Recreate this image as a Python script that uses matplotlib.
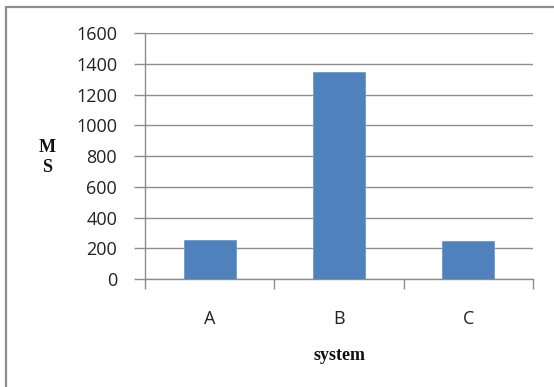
import matplotlib
matplotlib.use("Agg")
import matplotlib.pyplot as plt
from matplotlib.patches import Rectangle

categories = ["A", "B", "C"]
values = [255, 1350, 245]
y_ticks = [0, 200, 400, 600, 800, 1000, 1200, 1400, 1600]

W, H = 554, 387
fig = plt.figure(figsize=(W / 100, H / 100), dpi=100)
fig.patch.set_facecolor("white")

# outer chart frame (left and top edges visible)
fig.patches.append(Rectangle((6 / W, -0.1), 1.2, (1 - 7.5 / H) + 0.1,
                             transform=fig.transFigure, fill=False,
                             edgecolor="#8c8c8c", linewidth=1.6, zorder=0))

ax = fig.add_axes([145 / W, 1 - 279 / H, (533 - 145) / W, (279 - 33.3) / H])

grid_color = "#8e8e8e"
x = list(range(len(categories)))
ax.bar(x, values, width=0.4, color="#4F81BD", edgecolor="#6f9ad0",
       linewidth=0.6, zorder=3)

ax.set_xlim(-0.5, 2.5)
ax.set_ylim(0, 1600)
ax.set_yticks(y_ticks)
ax.yaxis.grid(True, color=grid_color, linewidth=1.0, zorder=0)
ax.set_axisbelow(True)

tick_font = "Open Sans"
ax.set_yticklabels([str(v) for v in y_ticks], fontsize=13, family=tick_font,
                   color="#222222")
ax.tick_params(axis="y", length=8, width=1.0, color=grid_color, pad=12)

ax.set_xticks(x)
ax.set_xticklabels(categories, fontsize=13, family=tick_font, color="#222222")
ax.tick_params(axis="x", which="major", length=0, pad=22)
ax.set_xticks([-0.5, 0.5, 1.5, 2.5], minor=True)
ax.tick_params(axis="x", which="minor", length=7, width=1.0, color=grid_color)

for side in ("top", "right"):
    ax.spines[side].set_visible(False)
for side in ("left", "bottom"):
    ax.spines[side].set_color(grid_color)
    ax.spines[side].set_linewidth(1.0)

# axis titles
title_kw = dict(ha="center", va="center", family="Liberation Serif",
                fontweight="bold", fontsize=13, color="#111111")
fig.text(47 / W, 1 - 147 / H, "M", **title_kw)
fig.text(47 / W, 1 - 168 / H, "S", **title_kw)
fig.text(340 / W, 1 - 355 / H, "system", **title_kw)

fig.savefig("out.png", dpi=100)
